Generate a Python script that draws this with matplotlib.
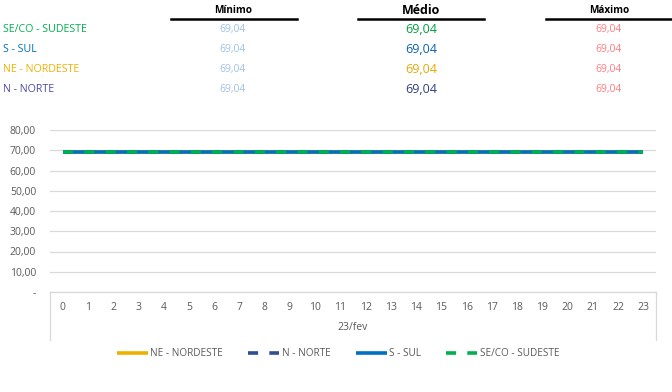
import matplotlib
matplotlib.use("Agg")
import matplotlib.pyplot as plt
from matplotlib.lines import Line2D

plt.rcParams['font.family'] = ['Open Sans', 'DejaVu Sans']

hours = [0, 1, 2, 3, 4, 5, 6, 7, 8, 9, 10, 11, 12, 13, 14, 15, 16, 17, 18, 19, 20, 21, 22, 23]
ne_nordeste = [69.04, 69.04, 69.04, 69.04, 69.04, 69.04, 69.04, 69.04, 69.04, 69.04, 69.04, 69.04,
               69.04, 69.04, 69.04, 69.04, 69.04, 69.04, 69.04, 69.04, 69.04, 69.04, 69.04, 69.04]
n_norte = [69.04, 69.04, 69.04, 69.04, 69.04, 69.04, 69.04, 69.04, 69.04, 69.04, 69.04, 69.04,
           69.04, 69.04, 69.04, 69.04, 69.04, 69.04, 69.04, 69.04, 69.04, 69.04, 69.04, 69.04]
s_sul = [69.04, 69.04, 69.04, 69.04, 69.04, 69.04, 69.04, 69.04, 69.04, 69.04, 69.04, 69.04,
         69.04, 69.04, 69.04, 69.04, 69.04, 69.04, 69.04, 69.04, 69.04, 69.04, 69.04, 69.04]
seco_sudeste = [69.04, 69.04, 69.04, 69.04, 69.04, 69.04, 69.04, 69.04, 69.04, 69.04, 69.04, 69.04,
                69.04, 69.04, 69.04, 69.04, 69.04, 69.04, 69.04, 69.04, 69.04, 69.04, 69.04, 69.04]
date_label = "23/fev"

y_ticks = [0, 10, 20, 30, 40, 50, 60, 70, 80]
y_tick_labels = ["-", "10,00", "20,00", "30,00", "40,00", "50,00", "60,00", "70,00", "80,00"]

# summary table
table_regions = ["SE/CO - SUDESTE", "S - SUL", "NE - NORDESTE", "N - NORTE"]
table_min = ["69,04", "69,04", "69,04", "69,04"]
table_med = ["69,04", "69,04", "69,04", "69,04"]
table_max = ["69,04", "69,04", "69,04", "69,04"]
table_headers = ["Mínimo", "Médio", "Máximo"]

region_colors = ["#00B050", "#0070C0", "#F0B000", "#4A4AA8"]
med_colors = ["#00A040", "#0A60B0", "#E8A800", "#2F3F80"]
min_color = "#9DC3E6"
max_color = "#FF7C80"

W, H = 672, 392
fig = plt.figure(figsize=(W / 100, H / 100), dpi=100)

def fx(x):
    return x / W

def fy(y):
    return 1 - y / H

# top table
hdr_x = [233, 421, 609]
hdr_sizes = [7.2, 9, 7.2]
ul = [(171, 297), (358, 484), (546, 672)]
for hx, t, s, (a, b) in zip(hdr_x, table_headers, hdr_sizes, ul):
    fig.text(fx(hx), fy(10.5), t, ha="center", va="center", fontsize=s, fontweight="bold", color="#000000")
    fig.add_artist(Line2D([fx(a), fx(b)], [fy(19), fy(19)], color="black", lw=1.8))

row_y = [29.5, 49.5, 69.5, 89.5]
for i, ry in enumerate(row_y):
    fig.text(fx(3), fy(ry), table_regions[i], ha="left", va="center", fontsize=7.7, color=region_colors[i])
    fig.text(fx(233), fy(ry), table_min[i], ha="center", va="center", fontsize=7.5, color=min_color)
    fig.text(fx(421), fy(ry), table_med[i], ha="center", va="center", fontsize=9, color=med_colors[i])
    fig.text(fx(609), fy(ry), table_max[i], ha="center", va="center", fontsize=7.5, color=max_color)

# chart
ax_left, ax_right, ax_top, ax_bot = 50, 656, 130, 292
ax = fig.add_axes([fx(ax_left), fy(ax_bot), fx(ax_right - ax_left), (ax_bot - ax_top) / H])

dash = (2.8, 3.1)
ax.plot(hours, ne_nordeste, color="#F0B000", lw=2.6, solid_capstyle="butt", label="NE - NORDESTE")
ax.plot(hours, n_norte, color="#2F4F8F", lw=2.6, dashes=dash, label="N - NORTE")
ax.plot(hours, s_sul, color="#0070C0", lw=2.6, solid_capstyle="butt", label="S - SUL")
ax.plot(hours, seco_sudeste, color="#00B050", lw=2.6, dashes=dash, label="SE/CO - SUDESTE")

ax.set_xlim(-0.5, 23.5)
ax.set_ylim(0, 80)
ax.set_yticks(y_ticks)
ax.set_yticklabels(y_tick_labels)
ax.set_xticks(hours)
ax.set_xticklabels([str(h) for h in hours])
ax.yaxis.grid(True, color="#D9D9D9", lw=0.9)
ax.set_axisbelow(True)
for sp in ["top", "right", "left"]:
    ax.spines[sp].set_visible(False)
ax.spines["bottom"].set_color("#D9D9D9")
ax.spines["bottom"].set_linewidth(0.9)
ax.tick_params(axis="y", length=0, pad=10, labelsize=7.5, labelcolor="#595959")
ax.tick_params(axis="x", length=0, pad=7, labelsize=7.5, labelcolor="#595959")

# category box lines below the axis
depth = (340 - ax_bot) / (ax_bot - ax_top)
for xa in [0, 1]:
    ax.add_line(Line2D([xa, xa], [0, -depth], transform=ax.transAxes, color="#D9D9D9",
                       lw=0.9, clip_on=False))
ax.text(0.5, -(328 - ax_bot) / (ax_bot - ax_top), date_label, transform=ax.transAxes,
        ha="center", va="center", fontsize=7.5, color="#595959")

leg = fig.legend(loc="center", bbox_to_anchor=(fx(338), fy(354)), ncol=4, frameon=False,
                 fontsize=7.2, handlelength=3.1, columnspacing=2.5, handletextpad=0.25)
for t in leg.get_texts():
    t.set_color("#595959")

fig.savefig("out.png", dpi=100)
